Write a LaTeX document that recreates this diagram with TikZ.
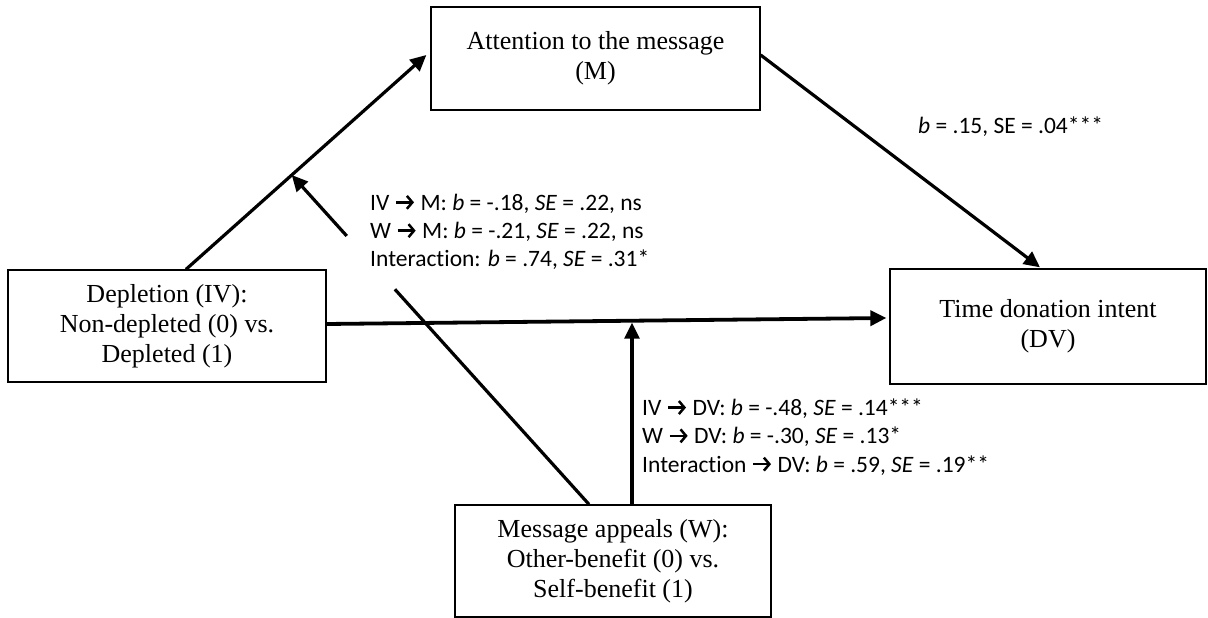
\documentclass[tikz,border=0pt]{standalone}
\usepackage{fontspec}
\setmainfont{Liberation Serif}
\newfontfamily\labfont[Ligatures=NoCommon]{Carlito}
\usetikzlibrary{arrows.meta,calc}
\newsavebox\myarrbox
\newcommand{\myra}{\usebox\myarrbox}
\begin{document}
\sbox\myarrbox{\begin{pgfpicture}\pgfsetlinewidth{2.5pt}\pgfsetbuttcap\pgfsetarrowsend{Straight Barb[length=5.5pt,width=13pt]}\pgfpathmoveto{\pgfpoint{0pt}{8pt}}\pgfpathlineto{\pgfpoint{18pt}{8pt}}\pgfusepath{stroke}\pgfsetbaseline{0pt}\end{pgfpicture}}%
\begin{tikzpicture}[x=1pt,y=-1pt,
  box/.style={draw, line width=1.3pt, inner sep=0pt, align=center, font=\fontsize{26}{30}\selectfont},
  conn/.style={line width=3.2pt, -{Triangle[length=16pt,width=15pt]}},
  lab/.style={inner sep=0pt, align=left, font=\labfont\fontsize{23.5}{28.3}\selectfont}]
\useasboundingbox (0,0) rectangle (1208,618);
\node[box, minimum width=329pt, minimum height=103pt] (M) at (595.5,58.5) {Attention to the message\\(M)};
\node[box, minimum width=318pt, minimum height=112pt] (IV) at (167,326) {Depletion (IV):\\Non-depleted (0) vs.\\Depleted (1)};
\node[box, minimum width=316pt, minimum height=115pt] (DV) at (1048,326.5) {Time donation intent\\(DV)};
\node[box, minimum width=316pt, minimum height=112pt] (W) at (613,561) {Message appeals (W):\\Other-benefit (0) vs.\\Self-benefit (1)};
\coordinate (ivs) at ($(IV.north)+(19,0)$);
\coordinate (mt) at ($(M.west)+(-4,-3.5)$);
\coordinate (ms) at ($(M.east)+(0,-3.5)$);
\coordinate (dvt) at ($(DV.north)+(-8,-1)$);
\coordinate (ive) at ($(IV.east)+(0,-2)$);
\coordinate (dvw) at ($(DV.west)+(-3,-8.5)$);
\coordinate (wv) at ($(W.north)+(19,0)$);
\coordinate (wd) at ($(W.north)+(-24,0)$);
\coordinate (vt) at ($(ive)!0.548!(dvw)$);
\coordinate (vtip) at ($(wv |- vt)+(0,2)$);
\coordinate (at) at ($(ivs)!0.44!(mt)$);
\draw[conn] (ivs) -- (mt);
\draw[conn] (ms) -- (dvt);
\draw[conn, line width=3.8pt] (ive) -- (dvw);
\draw[conn] (wv) -- (vtip);
\draw[line width=3.2pt] (wd) -- ($(wd)!0.653!(at)$);
\draw[conn] ($(wd)!0.815!(at)$) -- (at);
\node[lab, anchor=base west] (l1) at (918,133) {\textit{b} = .15, SE = .04***};
\node[lab, anchor=west] (l2) at (370,232) {IV \myra{} M: \textit{b} = -.18, \textit{SE} = .22, ns\\W \myra{} M: \textit{b} = -.21, \textit{SE} = .22, ns\\Interaction: \textit{b} = .74, \textit{SE} = .31*};
\node[lab, anchor=west] (l3) at (642,437) {IV \myra{} DV: \textit{b} = -.48, \textit{SE} = .14***\\W \myra{} DV: \textit{b} = -.30, \textit{SE} = .13*\\Interaction \myra{} DV: \textit{b} = .59, \textit{SE} = .19**};
\end{tikzpicture}
\end{document}
